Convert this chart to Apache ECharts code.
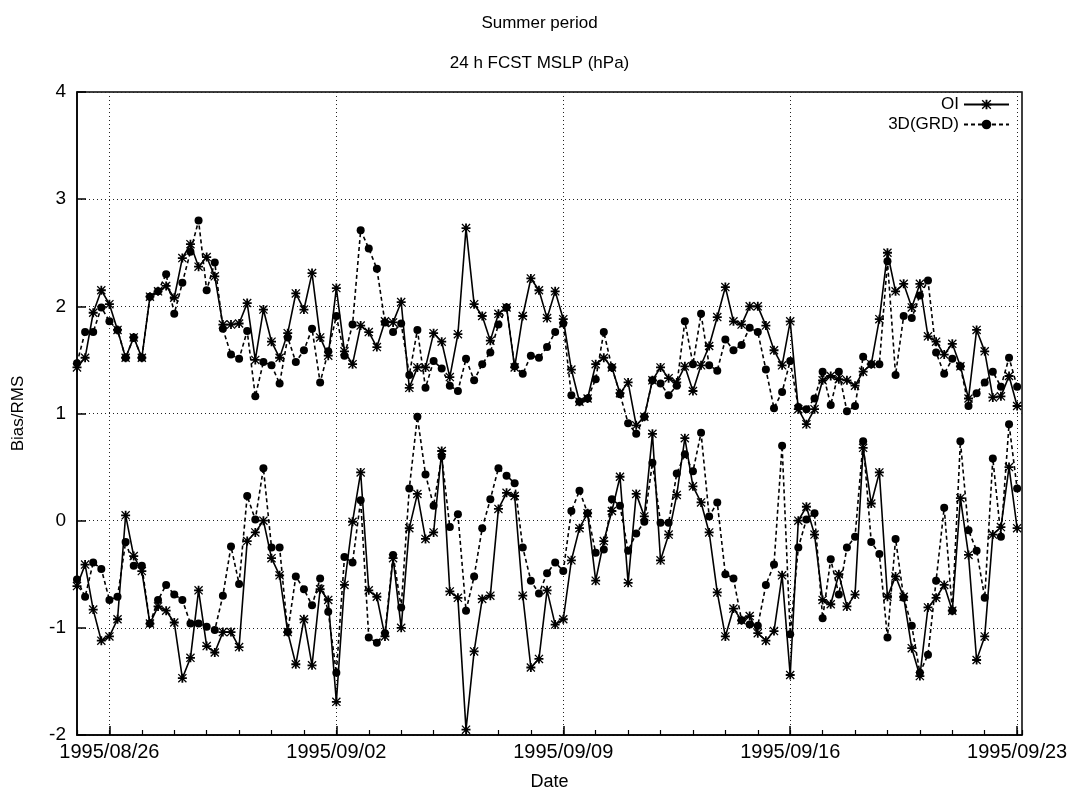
<!DOCTYPE html>
<html><head><meta charset="utf-8">
<script src="https://cdn.jsdelivr.net/npm/echarts@6/dist/echarts.min.js"></script>
<style>html,body{margin:0;padding:0;background:#fff}#c{width:1079px;height:799px}</style>
</head><body><div id="c"></div>
<script>
// x positions: days since 1995/08/25 00:00, one value every 6 hours
const stepDays = 0.25;
const tickDays = [1, 8, 15, 22, 29];
const tickLabels = ['1995/08/26', '1995/09/02', '1995/09/09', '1995/09/16', '1995/09/23'];

// OI upper curve (RMS)
const oiRms = [1.43,1.52,1.94,2.15,2.02,1.78,1.52,1.71,1.52,2.09,2.14,2.19,2.08,2.45,2.58,2.37,2.46,2.28,1.83,1.83,
1.84,2.03,1.50,1.97,1.67,1.52,1.75,2.12,1.97,2.31,1.71,1.54,2.17,1.58,1.46,1.82,1.76,1.62,1.86,1.85,
2.04,1.24,1.43,1.43,1.75,1.67,1.34,1.74,2.73,2.02,1.91,1.68,1.93,1.99,1.43,1.91,2.26,2.15,1.89,2.14,
1.88,1.41,1.11,1.14,1.46,1.52,1.43,1.19,1.29,0.89,0.97,1.31,1.43,1.33,1.29,1.44,1.21,1.45,1.63,1.90,
2.18,1.86,1.83,2.00,2.00,1.82,1.59,1.45,1.86,1.04,0.90,1.04,1.31,1.35,1.32,1.31,1.26,1.39,1.46,1.88,
2.50,2.14,2.21,1.99,2.21,1.72,1.67,1.55,1.65,1.44,1.14,1.78,1.58,1.15,1.16,1.35,1.07];
// 3D(GRD) upper curve (RMS)
const gdRms = [1.47,1.76,1.76,1.99,1.86,1.78,1.52,1.71,1.52,2.09,2.14,2.30,1.93,2.22,2.51,2.80,2.15,2.41,1.79,1.55,
1.51,1.77,1.16,1.48,1.45,1.28,1.71,1.48,1.59,1.79,1.29,1.58,1.91,1.54,1.83,2.71,2.54,2.35,1.85,1.76,
1.84,1.36,1.78,1.24,1.49,1.42,1.26,1.21,1.51,1.31,1.46,1.57,1.83,1.99,1.44,1.37,1.54,1.52,1.62,1.76,
1.84,1.17,1.11,1.14,1.32,1.76,1.43,1.18,0.91,0.81,0.97,1.31,1.28,1.17,1.26,1.86,1.46,1.93,1.45,1.40,
1.69,1.59,1.64,1.80,1.76,1.41,1.05,1.20,1.49,1.06,1.04,1.14,1.39,1.08,1.39,1.02,1.07,1.53,1.46,1.46,
2.42,1.36,1.91,1.89,2.10,2.24,1.57,1.37,1.51,1.44,1.07,1.19,1.29,1.39,1.25,1.52,1.25];
// OI lower curve (bias)
const oiBias = [-0.61,-0.41,-0.83,-1.12,-1.08,-0.92,0.05,-0.33,-0.47,-0.96,-0.80,-0.84,-0.95,-1.47,-1.28,-0.65,-1.17,-1.23,-1.04,-1.04,
-1.18,-0.19,-0.11,0.00,-0.35,-0.51,-1.04,-1.34,-0.92,-1.35,-0.64,-0.74,-1.69,-0.60,-0.01,0.45,-0.65,-0.71,-1.08,-0.35,
-1.00,-0.07,0.25,-0.17,-0.11,0.65,-0.66,-0.72,-1.95,-1.22,-0.73,-0.70,0.11,0.26,0.23,-0.70,-1.37,-1.29,-0.65,-0.97,
-0.92,-0.37,-0.07,0.07,-0.56,-0.19,0.09,0.41,-0.58,0.25,0.04,0.81,-0.37,-0.13,0.24,0.77,0.32,0.17,-0.11,-0.67,
-1.08,-0.82,-0.93,-0.89,-1.05,-1.12,-1.03,-0.51,-1.44,0.00,0.13,-0.13,-0.74,-0.78,-0.50,-0.80,-0.69,0.68,0.16,0.45,
-0.71,-0.52,-0.71,-1.19,-1.45,-0.81,-0.72,-0.60,-0.84,0.21,-0.32,-1.30,-1.08,-0.13,-0.06,0.50,-0.07];
// 3D(GRD) lower curve (bias)
const gdBias = [-0.55,-0.71,-0.39,-0.45,-0.74,-0.71,-0.20,-0.42,-0.42,-0.96,-0.74,-0.60,-0.69,-0.74,-0.96,-0.96,-0.99,-1.02,-0.70,-0.24,
-0.59,0.23,0.01,0.49,-0.25,-0.25,-1.04,-0.52,-0.64,-0.79,-0.54,-0.85,-1.42,-0.34,-0.39,0.19,-1.09,-1.14,-1.05,-0.32,
-0.81,0.30,0.97,0.43,0.14,0.60,-0.06,0.06,-0.84,-0.52,-0.07,0.20,0.49,0.42,0.35,-0.25,-0.56,-0.68,-0.49,-0.39,
-0.47,0.09,0.28,0.07,-0.30,-0.27,0.20,0.14,-0.28,-0.12,-0.01,0.54,-0.02,-0.02,0.44,0.62,0.46,0.82,0.04,0.17,
-0.50,-0.54,-0.93,-0.97,-0.98,-0.60,-0.41,0.70,-1.06,-0.25,0.01,0.07,-0.91,-0.36,-0.69,-0.25,-0.15,0.74,-0.20,-0.31,
-1.09,-0.17,-0.72,-0.98,-1.42,-1.25,-0.56,0.12,-0.84,0.74,-0.09,-0.28,-0.72,0.58,-0.15,0.90,0.30];

function pts(arr) { return arr.map((v, i) => [i * stepDays, v]); }

const starPath = 'path://M4 0L6 0L6 10L4 10Z M0 4L10 4L10 6L0 6Z M0 1L1 0L10 9L9 10Z M9 0L10 1L1 10L0 9Z';
const FONT = 'Liberation Sans';
const xMax = 29.15;

function oiSeries(arr) {
  return { name: 'OI', type: 'line', data: pts(arr), symbol: starPath, symbolSize: 9,
    lineStyle: { color: '#000', width: 1.6 }, itemStyle: { color: '#000' }, z: 3, animation: false };
}
function gdSeries(arr) {
  return { name: '3D(GRD)', type: 'line', data: pts(arr), symbol: 'circle', symbolSize: 8,
    lineStyle: { color: '#000', width: 1.6, type: [4, 3] }, itemStyle: { color: '#000' }, z: 2, animation: false };
}

const chart = echarts.init(document.getElementById('c'), null, { renderer: 'canvas' });
chart.setOption({
  backgroundColor: '#fff',
  animation: false,
  textStyle: { fontFamily: FONT, color: '#000' },
  title: [
    { text: 'Summer period', left: 'center', top: 10, textStyle: { fontFamily: FONT, fontSize: 17, fontWeight: 'normal', color: '#000' } },
    { text: '24 h FCST MSLP (hPa)', left: 'center', top: 50, textStyle: { fontFamily: FONT, fontSize: 17, fontWeight: 'normal', color: '#000' } }
  ],
  legend: [
    { data: ['OI'], orient: 'vertical', right: 64, top: 91, align: 'right', itemWidth: 45, itemHeight: 12,
      textStyle: { fontFamily: FONT, fontSize: 17, color: '#000' } },
    { data: ['3D(GRD)'], orient: 'vertical', right: 64, top: 111, align: 'right', itemWidth: 45, itemHeight: 12,
      textStyle: { fontFamily: FONT, fontSize: 17, color: '#000' } }
  ],
  grid: { left: 77, right: 57, top: 92, bottom: 64, show: true, borderColor: '#000', borderWidth: 1.5, backgroundColor: 'transparent' },
  xAxis: [
    { type: 'value', min: 0, max: xMax, position: 'bottom',
      axisLine: { show: true, onZero: false, lineStyle: { color: '#000', width: 1.5 } },
      axisTick: { show: true, inside: true, length: 9, customValues: tickDays, lineStyle: { color: '#000', width: 1.5 } },
      axisLabel: { customValues: tickDays, formatter: v => { const k = tickDays.indexOf(Math.round(v)); return k >= 0 ? tickLabels[k] : ''; },
        fontFamily: FONT, fontSize: 20, color: '#000', margin: 7 },
      splitLine: { show: true, lineStyle: { color: '#222', width: 1, type: [1, 3] } },
      name: 'Date', nameLocation: 'middle', nameGap: 38, nameTextStyle: { fontFamily: FONT, fontSize: 18, color: '#000' } },
    { type: 'value', min: 0, max: xMax, interval: 1, position: 'bottom', gridIndex: 0,
      axisLine: { show: false, onZero: false }, axisTick: { show: true, inside: true, length: 5, lineStyle: { color: '#000', width: 1.2 } },
      axisLabel: { show: false }, splitLine: { show: false } }
  ],
  yAxis: [
    { type: 'value', min: -2, max: 4, interval: 1,
      axisLine: { show: true, onZero: false, lineStyle: { color: '#000', width: 1.5 } },
      axisTick: { show: true, inside: true, length: 9, lineStyle: { color: '#000', width: 1.5 } },
      axisLabel: { fontFamily: FONT, fontSize: 19, color: '#000', margin: 11 },
      splitLine: { show: true, lineStyle: { color: '#222', width: 1, type: [1, 3] } },
      name: 'Bias/RMS', nameLocation: 'middle', nameGap: 50, nameTextStyle: { fontFamily: FONT, fontSize: 17, color: '#000' } }
  ],
  series: [oiSeries(oiRms), gdSeries(gdRms), oiSeries(oiBias), gdSeries(gdBias)]
});
</script>
</body></html>
